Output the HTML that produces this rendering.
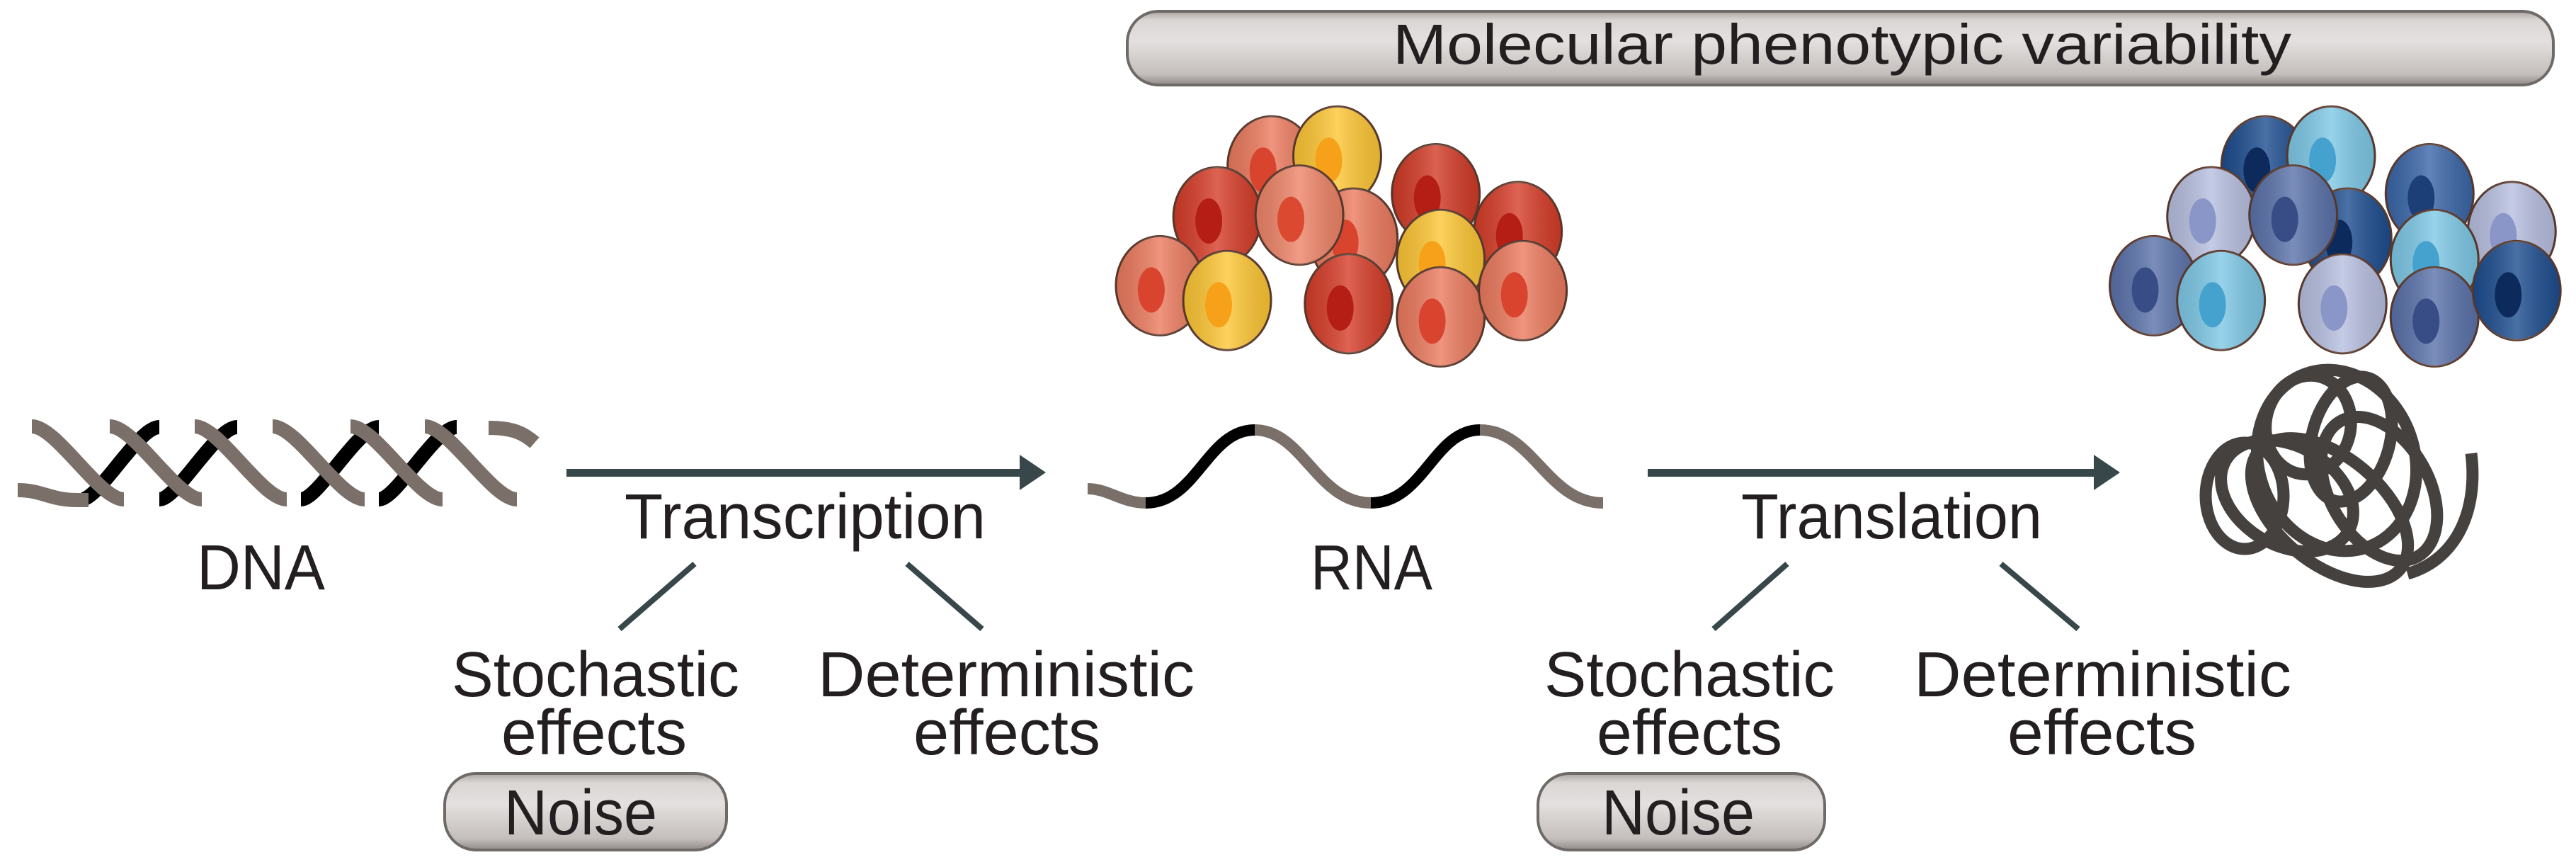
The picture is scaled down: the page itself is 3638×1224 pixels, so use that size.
<!DOCTYPE html>
<html><head><meta charset="utf-8"><style>
html,body{margin:0;padding:0;background:#fff;}
svg{display:block;}
text{font-family:"Liberation Sans Narrow","Liberation Sans",sans-serif;fill:#231f20;}
</style></head><body>
<svg width="3638" height="1224" viewBox="0 0 3638 1224" xmlns="http://www.w3.org/2000/svg">
<defs>
<linearGradient id="pill" x1="0" y1="0" x2="0" y2="1">
<stop offset="0" stop-color="#a9a4a1"/><stop offset="0.12" stop-color="#d9d6d4"/><stop offset="0.4" stop-color="#e3e0df"/><stop offset="0.85" stop-color="#c4bfbc"/><stop offset="1" stop-color="#8f8a87"/>
</linearGradient>
<linearGradient id="cg" x1="0" y1="0" x2="1" y2="0">
<stop offset="0" stop-color="#000" stop-opacity="0.12"/><stop offset="0.5" stop-color="#fff" stop-opacity="0.2"/><stop offset="1" stop-color="#000" stop-opacity="0.12"/>
</linearGradient>
</defs>

<rect x="1592" y="16" width="2014" height="104" rx="44" fill="url(#pill)" stroke="#6e6a68" stroke-width="4"/>
<text x="1967" y="90" font-size="80" textLength="1269" lengthAdjust="spacingAndGlyphs">Molecular phenotypic variability</text>

<g id="cells" stroke="#5b3a2e" stroke-width="3"></g>

<!-- DNA -->
<g fill="none" stroke-width="20" stroke-linecap="butt">
<g stroke="#000">
<path d="M115,705 C140,705 195,603 225,603"/>
<path d="M225,705 C250,705 305,603 335,603"/>
<path d="M425,705 C450,705 505,603 535,603"/>
<path d="M535,705 C560,705 615,603 645,603"/>
</g>
<g stroke="#7a6f69">
<path d="M25,692 C60,692 70,706 110,706 L125,706"/>
<path d="M45,602 C80,602 140,705 175,705"/>
<path d="M155,602 C190,602 250,705 285,705"/>
<path d="M275,602 C310,602 370,705 405,705"/>
<path d="M385,602 C420,602 480,705 515,705"/>
<path d="M495,602 C530,602 590,705 625,705"/>
<path d="M600,602 C635,602 695,705 730,705"/>
<path d="M690,604 C725,604 740,612 755,625"/>
</g>
</g>

<!-- RNA -->
<g fill="none" stroke-width="16">
<path d="M1536,690 C1565,690 1585,710 1618,710" stroke="#7a6f69"/>
<path d="M1618,710 C1690,710 1705,607 1772,607" stroke="#000"/>
<path d="M1772,607 C1840,607 1860,710 1936,710" stroke="#7a6f69"/>
<path d="M1936,710 C2010,710 2025,607 2090,607" stroke="#000"/>
<path d="M2090,607 C2165,607 2185,710 2264,710" stroke="#7a6f69"/>
</g>

<!-- protein -->
<g fill="none" stroke="#45413f" stroke-width="17">
<ellipse cx="3300" cy="650" rx="110" ry="130" transform="rotate(-20 3300 650)"/>
<ellipse cx="3230" cy="700" rx="100" ry="70" transform="rotate(30 3230 700)"/>
<ellipse cx="3320" cy="620" rx="55" ry="90" transform="rotate(15 3320 620)"/>
<ellipse cx="3290" cy="720" rx="130" ry="75" transform="rotate(40 3290 720)"/>
<ellipse cx="3360" cy="690" rx="70" ry="110" transform="rotate(-30 3360 690)"/>
<ellipse cx="3170" cy="700" rx="55" ry="75"/>
<path d="M3490,640 C3500,720 3470,790 3400,810"/>
<ellipse cx="3260" cy="600" rx="60" ry="70" transform="rotate(10 3260 600)"/>
</g>

<g fill="#37474a">
<rect x="800" y="662" width="650" height="11"/>
<polygon points="1440,642 1477,667 1440,692"/>
<rect x="2327" y="662" width="640" height="11"/>
<polygon points="2957,642 2994,667 2957,692"/>
</g>
<g stroke="#37474a" stroke-width="8">
<line x1="981" y1="796" x2="875" y2="888"/>
<line x1="1281" y1="796" x2="1387" y2="888"/>
<line x1="2524" y1="796" x2="2420" y2="888"/>
<line x1="2826" y1="796" x2="2935" y2="888"/>
</g>

<text x="882" y="760" font-size="90" textLength="510" lengthAdjust="spacingAndGlyphs">Transcription</text>
<text x="2459" y="760" font-size="90" textLength="425" lengthAdjust="spacingAndGlyphs">Translation</text>
<text x="278" y="832" font-size="90" textLength="181" lengthAdjust="spacingAndGlyphs">DNA</text>
<text x="1851" y="832" font-size="90" textLength="172" lengthAdjust="spacingAndGlyphs">RNA</text>

<text x="638" y="983" font-size="90" textLength="406" lengthAdjust="spacingAndGlyphs">Stochastic</text>
<text x="708" y="1065" font-size="90" textLength="262" lengthAdjust="spacingAndGlyphs">effects</text>
<text x="1155" y="983" font-size="90" textLength="532" lengthAdjust="spacingAndGlyphs">Deterministic</text>
<text x="1290" y="1065" font-size="90" textLength="264" lengthAdjust="spacingAndGlyphs">effects</text>
<text x="2181" y="983" font-size="90" textLength="410" lengthAdjust="spacingAndGlyphs">Stochastic</text>
<text x="2255" y="1065" font-size="90" textLength="262" lengthAdjust="spacingAndGlyphs">effects</text>
<text x="2703" y="983" font-size="90" textLength="533" lengthAdjust="spacingAndGlyphs">Deterministic</text>
<text x="2835" y="1065" font-size="90" textLength="267" lengthAdjust="spacingAndGlyphs">effects</text>

<rect x="628" y="1092" width="398" height="108" rx="44" fill="url(#pill)" stroke="#6e6a68" stroke-width="4"/>
<text x="712" y="1178" font-size="90" textLength="216" lengthAdjust="spacingAndGlyphs">Noise</text>
<rect x="2172" y="1092" width="405" height="108" rx="44" fill="url(#pill)" stroke="#6e6a68" stroke-width="4"/>
<text x="2262" y="1178" font-size="90" textLength="216" lengthAdjust="spacingAndGlyphs">Noise</text>
</svg>
<script>
(function(){
var g=document.getElementById('cells');
var pos=[[774,101],[874,118],[814,95],[741,132],[924,141],[824,145],[791,131],[877,158],[706,174],[821,185],[877,193],[927,177],[747,183]];
var red=[['#ec7a5e','#d9442e'],['#d23a26','#b51e14'],['#fdc634','#f7a11a'],['#d63c28','#b51e14'],['#d63c28','#b51e14'],['#ec7a5e','#d9442e'],['#ef8468','#db4a30'],['#fdc634','#f7a11a'],['#ec7a5e','#d9442e'],['#d63c28','#b51e14'],['#ec7a5e','#d9442e'],['#ec7a5e','#d9442e'],['#fdc634','#f7a11a']];
var blue=[['#1d4d8f','#0d2a5c'],['#3a66a8','#1d3f78'],['#7ec8e6','#45a2cf'],['#b7bfe0','#8a95c8'],['#b7bfe0','#8a95c8'],['#1d4d8f','#0d2a5c'],['#5a72aa','#384d85'],['#7ec8e6','#45a2cf'],['#5a72aa','#384d85'],['#b7bfe0','#8a95c8'],['#5a72aa','#384d85'],['#1d4d8f','#0d2a5c'],['#7ec8e6','#45a2cf']];
var ns='http://www.w3.org/2000/svg';
function el(cx,cy,rx,ry,f,s){var e=document.createElementNS(ns,'ellipse');
 e.setAttribute('cx',cx);e.setAttribute('cy',cy);e.setAttribute('rx',rx);e.setAttribute('ry',ry);
 e.setAttribute('fill',f);if(s)e.setAttribute('stroke','none');g.appendChild(e);}
function cell(cx,cy,c){
 el(cx,cy,62,70,c[0],false);
 el(cx,cy,62,70,'url(#cg)',true);
 el(cx-12,cy+6,19,32,c[1],true);
}
for(var i=0;i<pos.length;i++){cell(pos[i][0]*2.32,pos[i][1]*2.318,red[i]);}
for(var i=0;i<pos.length;i++){cell((pos[i][0]+605)*2.32,pos[i][1]*2.318,blue[i]);}
})();
</script>
</body></html>
